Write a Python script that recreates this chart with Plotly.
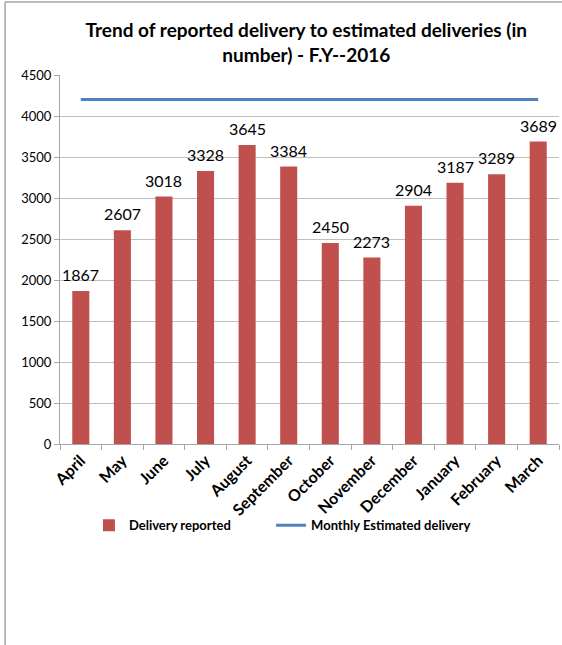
import plotly.graph_objects as go

months = ["April", "May", "June", "July", "August", "September", "October",
          "November", "December", "January", "February", "March"]
delivery_reported = [1867, 2607, 3018, 3328, 3645, 3384, 2450, 2273, 2904, 3187, 3289, 3689]
estimated_delivery = [4200] * 12
y_ticks = [0, 500, 1000, 1500, 2000, 2500, 3000, 3500, 4000, 4500]

FONT = "Lato, 'Open Sans', sans-serif"

fig = go.Figure()
fig.add_trace(go.Bar(
    x=months, y=delivery_reported, name="Delivery reported",
    marker=dict(color="#C0504D", line=dict(width=0)),
    width=0.41, legend="legend",
))
fig.add_trace(go.Scatter(
    x=months, y=estimated_delivery, name="Monthly Estimated delivery",
    mode="lines", line=dict(color="#4F81BD", width=3), legend="legend2",
))

for m, v in zip(months, delivery_reported):
    fig.add_annotation(x=m, y=v, text=str(v), showarrow=False,
                       yanchor="bottom", yshift=5,
                       font=dict(size=16, color="#000000", family=FONT))

legend_font = dict(size=13, family=FONT, color="#000000", weight="bold")

# plot area: x 60..559, y 75..444
fig.update_layout(
    width=562, height=645,
    margin=dict(l=60, r=3, t=75, b=201),
    paper_bgcolor="white", plot_bgcolor="white",
    font=dict(family=FONT, color="#000000"),
    title=dict(
        text="<b>Trend of reported delivery to estimated deliveries (in<br>number) - F.Y--2016</b>",
        x=0.545, xanchor="center", y=0.942, yanchor="middle",
        font=dict(size=19, family=FONT, color="#000000"),
    ),
    showlegend=True,
    legend=dict(
        orientation="h", x=0.058, xanchor="left", y=-0.22, yanchor="middle",
        font=legend_font, itemwidth=30, bgcolor="rgba(0,0,0,0)",
    ),
    legend2=dict(
        orientation="h", x=0.423, xanchor="left", y=-0.22, yanchor="middle",
        font=legend_font, itemwidth=30, bgcolor="rgba(0,0,0,0)",
    ),
)
fig.update_yaxes(
    range=[0, 4500], tickvals=y_ticks, ticktext=[str(t) for t in y_ticks],
    showgrid=True, gridcolor="#BFBFBF", gridwidth=1,
    showline=True, linecolor="#A6A6A6", linewidth=1,
    ticks="outside", ticklen=5, tickcolor="#A6A6A6",
    tickfont=dict(size=13, family=FONT, color="#000000"),
    zeroline=False, fixedrange=True,
)
fig.update_xaxes(
    type="category", range=[-0.5, 11.5], tickangle=-45, tickson="boundaries",
    ticks="outside", ticklen=5, tickcolor="#A6A6A6",
    showline=True, linecolor="#A6A6A6", linewidth=1,
    tickfont=dict(size=16, family=FONT, color="#000000", weight="bold"),
    showgrid=False, fixedrange=True, automargin=False,
)

# outer frame (left and top edges visible)
fig.add_shape(type="line", xref="paper", yref="paper",
              x0=-0.110, x1=-0.110, y0=-0.6, y1=1.198,
              line=dict(color="#A6A6A6", width=1.5))
fig.add_shape(type="line", xref="paper", yref="paper",
              x0=-0.110, x1=1.05, y0=1.198, y1=1.198,
              line=dict(color="#A6A6A6", width=1.5))

fig.write_html("out.html")
